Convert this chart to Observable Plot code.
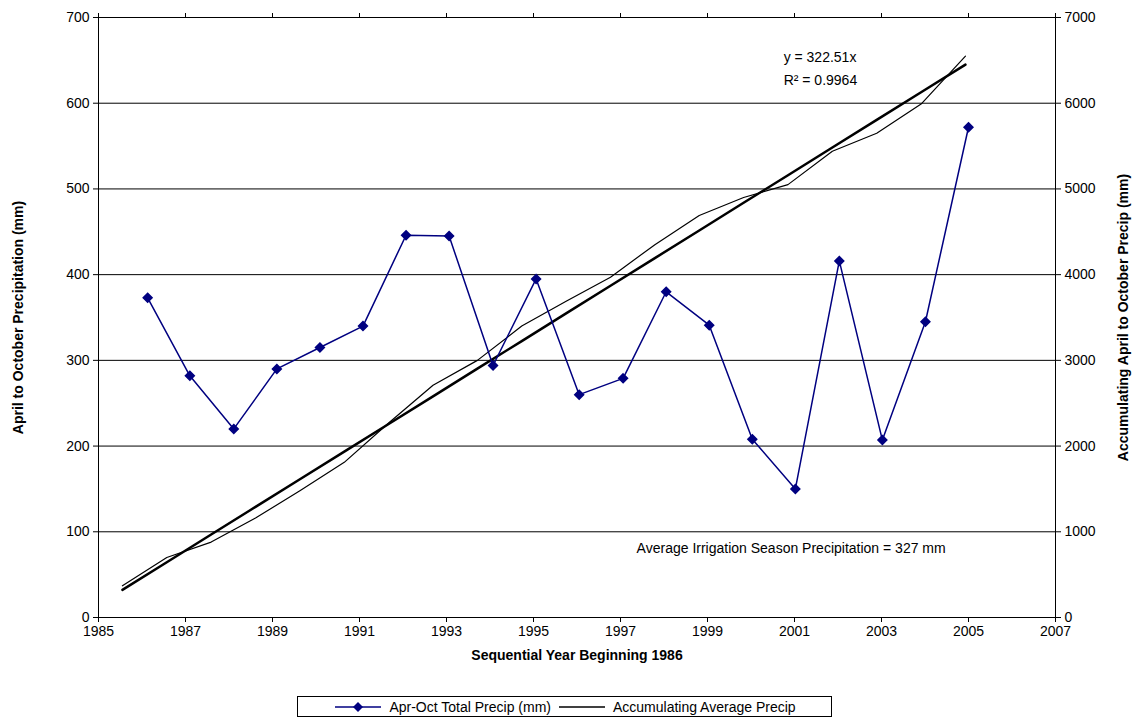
<!DOCTYPE html>
<html><head>
<script src="https://cdn.jsdelivr.net/npm/d3@7"></script>
<script src="https://cdn.jsdelivr.net/npm/@observablehq/plot@0.6"></script>
<style>
body{margin:0;background:#fff;font-family:"Liberation Sans",Arial,sans-serif;}
#legend{position:absolute;left:297px;top:696px;width:535px;height:21px;border:1px solid #000;box-sizing:border-box;font-size:14px;display:flex;align-items:center;justify-content:center;gap:6px;}
</style></head><body>
<div id="chart"></div>
<div id="legend">
<svg width="50" height="12"><line x1="2" y1="6" x2="48" y2="6" stroke="#000080" stroke-width="1.5"/><path d="M25 1 L30 6 L25 11 L20 6Z" fill="#000080"/></svg><span>Apr-Oct Total Precip (mm)</span>
<svg width="50" height="12"><line x1="2" y1="6" x2="48" y2="6" stroke="#000" stroke-width="1.5"/></svg><span>Accumulating Average Precip</span>
</div>
<script>
const precipYears = [1986.13,1987.1,1988.11,1989.1,1990.09,1991.08,1992.07,1993.06,1994.07,1995.06,1996.05,1997.06,1998.05,1999.04,2000.03,2001.02,2002.03,2003.02,2004.01,2005.0];
const precipValues = [373,282,220,290,315,340,446,445,294,395,260,279,380,341,208,150,416,207,345,572];
const accumYears = [1985.55,1986.57,1987.59,1988.61,1989.63,1990.65,1991.67,1992.69,1993.71,1994.73,1995.75,1996.77,1997.79,1998.81,1999.83,2000.85,2001.87,2002.89,2003.91,2004.93];
const accumValues = [370,700,880,1160,1480,1810,2270,2710,3000,3400,3690,3970,4350,4690,4900,5050,5440,5650,5990,6550];
const trendValues = [322,645,968,1290,1613,1935,2258,2580,2903,3225,3548,3870,4193,4515,4838,5160,5483,5805,6128,6450];
const leftTicks = [0,100,200,300,400,500,600,700];
const xTicks = [1985,1987,1989,1991,1993,1995,1997,1999,2001,2003,2005,2007];

const pts = precipYears.map((x,i)=>({x,y:precipValues[i]}));
const acc = accumYears.map((x,i)=>({x,y:accumValues[i]/10}));
const tr = accumYears.map((x,i)=>({x,y:trendValues[i]/10}));

const plot = Plot.plot({
  width:1135, height:672,
  marginLeft:98, marginRight:80, marginTop:17, marginBottom:55,
  style:{fontFamily:"Liberation Sans, Arial, sans-serif", fontSize:"14px", color:"#000"},
  x:{domain:[1985,2007]},
  y:{domain:[0,700]},
  marks:[
    Plot.ruleY(leftTicks,{stroke:"#000",strokeWidth:1}),
    Plot.frame({stroke:"#000"}),
    Plot.axisX({ticks:xTicks, tickFormat:d=>String(d), tickSize:5, label:"Sequential Year Beginning 1986", labelArrow:"none", labelAnchor:"center", labelOffset:42, fontSize:14}),
    Plot.axisX({anchor:"top", ticks:xTicks, tickSize:5, tickFormat:()=>"" , label:null}),
    Plot.axisY({ticks:leftTicks, tickSize:5, label:"April to October Precipitation (mm)", labelArrow:"none", labelAnchor:"center", labelOffset:85, fontSize:14}),
    Plot.axisY({anchor:"right", ticks:leftTicks, tickSize:5, tickFormat:d=>String(d*10), label:"Accumulating April to October Precip (mm)", labelArrow:"none", labelAnchor:"center", labelOffset:72, fontSize:14}),
    Plot.line(acc,{x:"x",y:"y",stroke:"#000",strokeWidth:1.2}),
    Plot.line(tr,{x:"x",y:"y",stroke:"#000",strokeWidth:2.5}),
    Plot.line(pts,{x:"x",y:"y",stroke:"#000080",strokeWidth:1.5}),
    Plot.dot(pts,{x:"x",y:"y",symbol:"diamond2",fill:"#000080",stroke:"#000080",r:4}),
    Plot.text(["y = 322.51x"],{x:2000.75,y:653,text:d=>d,textAnchor:"start",fontSize:14}),
    Plot.text(["R² = 0.9964"],{x:2000.75,y:626,text:d=>d,textAnchor:"start",fontSize:14}),
    Plot.text(["Average Irrigation Season Precipitation = 327 mm"],{x:1997.37,y:80,text:d=>d,textAnchor:"start",fontSize:14})
  ]
});
document.getElementById("chart").appendChild(plot);
d3.select(plot).selectAll("[aria-label^='y-axis label'] text, [aria-label='x-axis label'] text").style("font-weight","bold");
</script>
</body></html>
